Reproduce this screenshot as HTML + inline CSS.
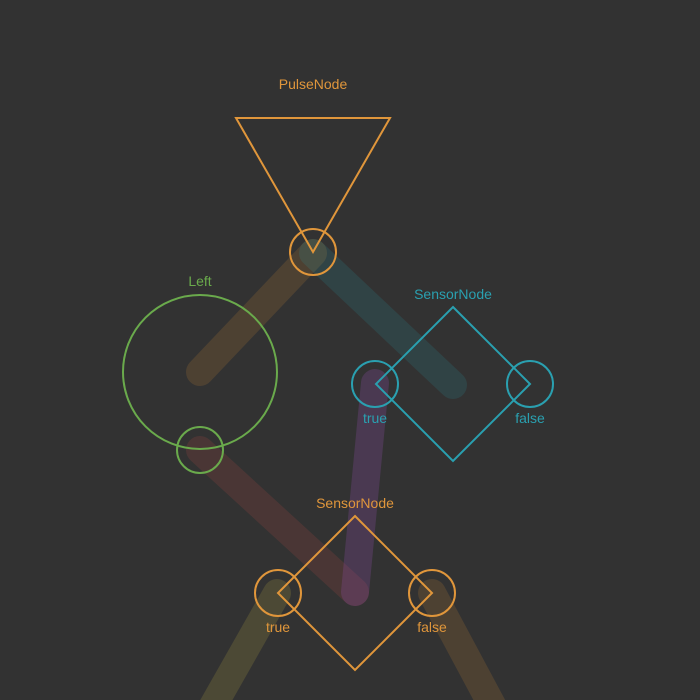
<!DOCTYPE html>
<html><head><meta charset="utf-8"><style>
html,body{margin:0;padding:0;background:#323232;width:700px;height:700px;overflow:hidden}
text{font-family:"Liberation Sans",sans-serif;font-size:14px;text-anchor:middle}
</style></head><body>
<svg width="700" height="700" viewBox="0 0 700 700">
<rect width="700" height="700" fill="#323232"/>
<g stroke-width="28" stroke-linecap="round" fill="none">
<line x1="313" y1="253" x2="200" y2="372" stroke="#e0963b" stroke-opacity="0.16"/>
<line x1="313" y1="253" x2="453" y2="385" stroke="#2aa0b0" stroke-opacity="0.16"/>
<line x1="200" y1="450" x2="355" y2="592" stroke="#d0504a" stroke-opacity="0.16"/>
<line x1="375" y1="383" x2="355" y2="592" stroke="#a050c0" stroke-opacity="0.22"/>
<line x1="277" y1="593" x2="205" y2="720" stroke="#c0b040" stroke-opacity="0.18"/>
<line x1="432" y1="593" x2="500" y2="720" stroke="#e0963b" stroke-opacity="0.16"/>
</g>
<g fill="none" stroke-width="2">
<g stroke="#e0963b">
<polygon points="236,118 390,118 313,252"/>
<circle cx="313" cy="252" r="23"/>
</g>
<text x="313" y="89" fill="#e0963b" stroke="none">PulseNode</text>
<g stroke="#6aaa4c">
<circle cx="200" cy="372" r="77"/>
<circle cx="200" cy="450" r="23"/>
</g>
<text x="200" y="286" fill="#6aaa4c" stroke="none">Left</text>
<g stroke="#2aa0b0">
<polygon points="453,307 530,384 453,461 376,384"/>
<circle cx="375" cy="384" r="23"/>
<circle cx="530" cy="384" r="23"/>
</g>
<text x="453" y="299" fill="#2aa0b0" stroke="none">SensorNode</text>
<text x="375" y="423" fill="#2aa0b0" stroke="none">true</text>
<text x="530" y="423" fill="#2aa0b0" stroke="none">false</text>
<g stroke="#e0963b">
<polygon points="355,516 432,593 355,670 278,593"/>
<circle cx="278" cy="593" r="23"/>
<circle cx="432" cy="593" r="23"/>
</g>
<text x="355" y="508" fill="#e0963b" stroke="none">SensorNode</text>
<text x="278" y="632" fill="#e0963b" stroke="none">true</text>
<text x="432" y="632" fill="#e0963b" stroke="none">false</text>
</g>
</svg>
</body></html>
